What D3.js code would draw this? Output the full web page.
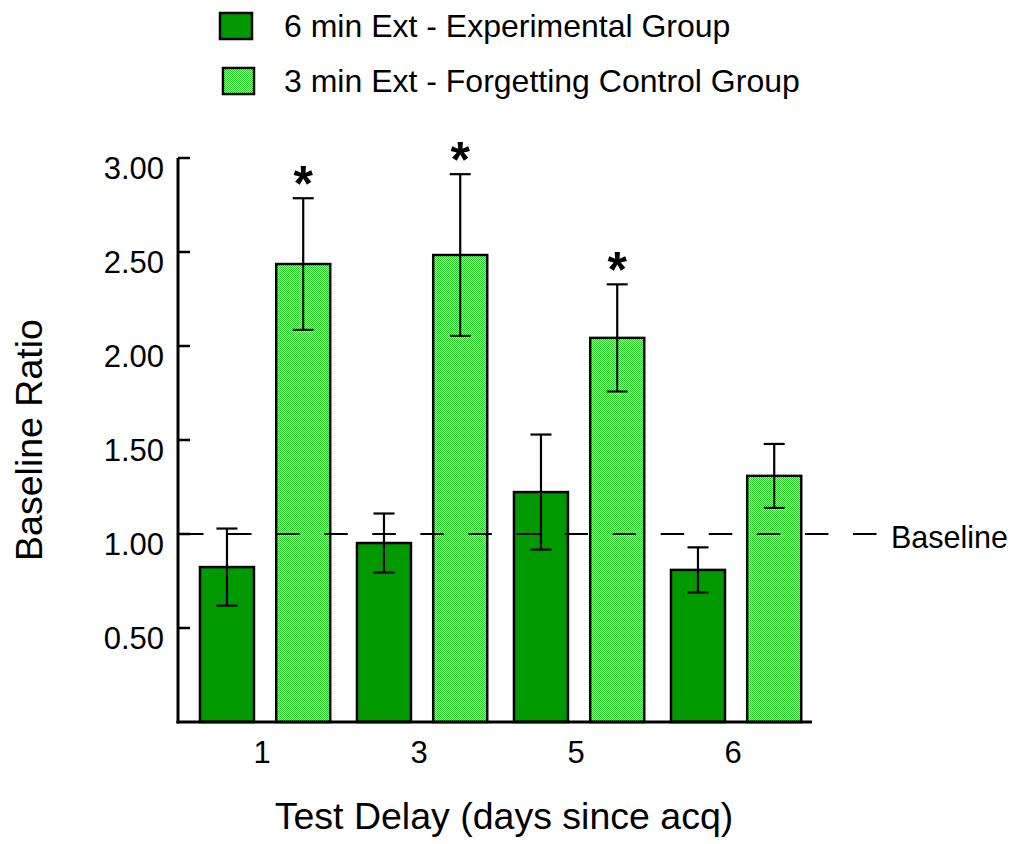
<!DOCTYPE html>
<html>
<head>
<meta charset="utf-8">
<script src="https://cdn.jsdelivr.net/npm/d3@7"></script>
<style>
  html, body { margin: 0; padding: 0; background: #fff; }
  svg { display: block; font-family: "Liberation Sans", Arial, sans-serif; }
</style>
</head>
<body>
<svg id="chart" width="1019" height="844"></svg>
<script>
// Test delays (days since acquisition)
const delays = ["1", "3", "5", "6"];
const groups = ["6 min Ext - Experimental Group", "3 min Ext - Forgetting Control Group"];

// Mean baseline ratio and standard error per delay
const experimentalMean = [0.824, 0.952, 1.223, 0.809];
const experimentalErr  = [0.205, 0.157, 0.306, 0.120];
const controlMean      = [2.436, 2.484, 2.043, 1.309];
const controlErr       = [0.350, 0.430, 0.285, 0.170];

// Significance markers over the control bars
const significant = [true, true, true, false];

const yTicks = [0.5, 1.0, 1.5, 2.0, 2.5, 3.0];
const baselineValue = 1.0;

const svg = d3.select("#chart");

// Checkered light-green fill for the control group
const defs = svg.append("defs");
const pat = defs.append("pattern")
  .attr("id", "checker")
  .attr("patternUnits", "userSpaceOnUse")
  .attr("width", 2).attr("height", 2);
pat.append("rect").attr("width", 2).attr("height", 2).attr("fill", "#eafdea");
pat.append("rect").attr("x", 0).attr("y", 0).attr("width", 1).attr("height", 1).attr("fill", "#14d414");
pat.append("rect").attr("x", 1).attr("y", 1).attr("width", 1).attr("height", 1).attr("fill", "#14d414");

const fills = ["#009900", "url(#checker)"];

const axisLeft = 178, axisRight = 812;
const y = d3.scaleLinear().domain([0, 3]).range([722, 158]);
const x0 = d3.scaleBand().domain(delays).range([186.6, 814.6]);
const x1 = d3.scaleBand().domain([0, 1]).range([0, x0.bandwidth()]).paddingInner(0.292).paddingOuter(0.1755);

const series = [
  { mean: experimentalMean, err: experimentalErr },
  { mean: controlMean, err: controlErr }
];

const plot = svg.append("g");

// Bars
series.forEach((s, si) => {
  plot.selectAll(".bar" + si)
    .data(delays)
    .enter().append("rect")
    .attr("x", d => x0(d) + x1(si))
    .attr("width", x1.bandwidth())
    .attr("y", (d, i) => y(s.mean[i]))
    .attr("height", (d, i) => y(0) - y(s.mean[i]))
    .attr("fill", fills[si])
    .attr("stroke", "#000")
    .attr("stroke-width", 2.5);
});

// Dashed baseline
plot.append("line")
  .attr("x1", 180).attr("x2", 877)
  .attr("y1", y(baselineValue)).attr("y2", y(baselineValue))
  .attr("stroke", "#000").attr("stroke-width", 2)
  .attr("stroke-dasharray", "23.5,24.57");
svg.append("text")
  .attr("x", 891).attr("y", y(baselineValue) + 14)
  .attr("font-size", 30.5).text("Baseline");

// Error bars
series.forEach((s, si) => {
  delays.forEach((d, i) => {
    const cx = x0(d) + x1(si) + x1.bandwidth() / 2;
    const top = y(s.mean[i] + s.err[i]);
    const bot = y(s.mean[i] - s.err[i]);
    const g = plot.append("g").attr("stroke", "#000").attr("stroke-width", 2.2);
    g.append("line").attr("x1", cx).attr("x2", cx).attr("y1", top).attr("y2", bot);
    g.append("line").attr("x1", cx - 10.5).attr("x2", cx + 10.5).attr("y1", top).attr("y2", top);
    g.append("line").attr("x1", cx - 10.5).attr("x2", cx + 10.5).attr("y1", bot).attr("y2", bot);
  });
});

// Asterisks
delays.forEach((d, i) => {
  if (!significant[i]) return;
  const cx = x0(d) + x1(1) + x1.bandwidth() / 2;
  svg.append("text")
    .attr("x", cx).attr("y", y(controlMean[i] + controlErr[i]) + 3)
    .attr("text-anchor", "middle")
    .attr("font-size", 50)
    .attr("font-weight", "bold")
    .text("*");
});

// Y axis
const yAxis = svg.append("g");
yAxis.append("line")
  .attr("x1", axisLeft).attr("x2", axisLeft)
  .attr("y1", y(3)).attr("y2", y(0) + 1.5)
  .attr("stroke", "#000").attr("stroke-width", 3);
yAxis.selectAll(".ytick").data(yTicks).enter().append("line")
  .attr("x1", axisLeft).attr("x2", axisLeft + 12)
  .attr("y1", d => y(d)).attr("y2", d => y(d))
  .attr("stroke", "#000").attr("stroke-width", 2.5);
yAxis.selectAll(".ylab").data(yTicks).enter().append("text")
  .attr("x", 164).attr("y", d => y(d) + 21)
  .attr("text-anchor", "end")
  .attr("font-size", 31)
  .text(d => d.toFixed(2));

// X axis
svg.append("line")
  .attr("x1", axisLeft - 1.5).attr("x2", axisRight)
  .attr("y1", y(0)).attr("y2", y(0))
  .attr("stroke", "#000").attr("stroke-width", 3);
svg.selectAll(".xlab").data(delays).enter().append("text")
  .attr("x", d => x0(d) + x0.bandwidth() / 2 - 3)
  .attr("y", 763)
  .attr("text-anchor", "middle")
  .attr("font-size", 31)
  .text(d => d);

// Axis titles
svg.append("text")
  .attr("x", 504).attr("y", 829)
  .attr("text-anchor", "middle")
  .attr("font-size", 37.5)
  .text("Test Delay (days since acq)");
svg.append("text")
  .attr("transform", "translate(42,440) rotate(-90)")
  .attr("text-anchor", "middle")
  .attr("font-size", 37.5)
  .text("Baseline Ratio");

// Legend
const legend = svg.append("g");
const legendRows = [
  { box: [220, 13, 32, 26], ty: 37 },
  { box: [223, 68, 31, 26], ty: 92 }
];
groups.forEach((name, i) => {
  const r = legendRows[i];
  legend.append("rect")
    .attr("x", r.box[0]).attr("y", r.box[1])
    .attr("width", r.box[2]).attr("height", r.box[3])
    .attr("fill", fills[i]).attr("stroke", "#000").attr("stroke-width", 2.5);
  legend.append("text")
    .attr("x", 284).attr("y", r.ty)
    .attr("font-size", 32)
    .text(name);
});
</script>
</body>
</html>
